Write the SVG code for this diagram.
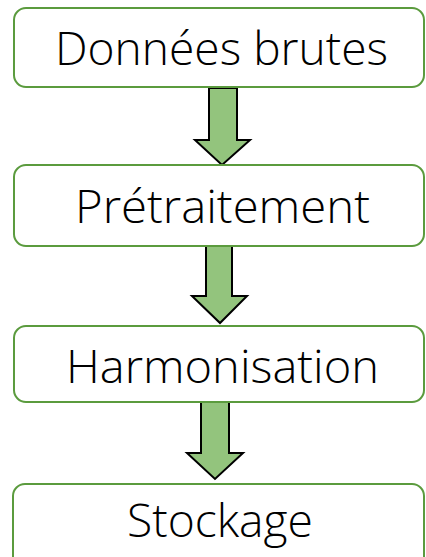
<svg xmlns="http://www.w3.org/2000/svg" width="426" height="557" viewBox="0 0 426 557">
<style>
.box{fill:#ffffff;stroke:#5b9b3e;stroke-width:2}
.lbl{font-family:"Open Sans","Liberation Sans",sans-serif;font-weight:300;font-size:46px;fill:#000000}
.arr{fill:#93c47d;stroke:#000000;stroke-width:2;stroke-linejoin:miter}
</style>
<rect x="0" y="0" width="426" height="557" fill="#ffffff"/>
<g id="connectors">
<polygon class="arr" points="209,88 237,88 237,140 250,140 222,165 195,140 209,140"/>
<polygon class="arr" points="206,246 232,246 232,296 247,296 220,323 192,296 206,296"/>
<polygon class="arr" points="201,402 229,402 229,453 243,453 215,479 187,453 201,453"/>
</g>
<g id="node1">
<rect class="box" x="14" y="8" width="410" height="79" rx="12"/>
<text class="lbl" x="55" y="65" textLength="333" lengthAdjust="spacingAndGlyphs">Données brutes</text>
</g>
<g id="node2">
<rect class="box" x="14" y="165" width="410" height="81" rx="12"/>
<text class="lbl" x="75" y="223" textLength="295" lengthAdjust="spacingAndGlyphs">Prétraitement</text>
</g>
<g id="node3">
<rect class="box" x="14" y="326" width="410" height="76" rx="12"/>
<text class="lbl" x="66" y="383" textLength="313" lengthAdjust="spacingAndGlyphs">Harmonisation</text>
</g>
<g id="node4">
<rect class="box" x="13" y="484" width="411" height="90" rx="12"/>
<text class="lbl" x="127" y="537" textLength="186" lengthAdjust="spacingAndGlyphs">Stockage</text>
</g>
</svg>
